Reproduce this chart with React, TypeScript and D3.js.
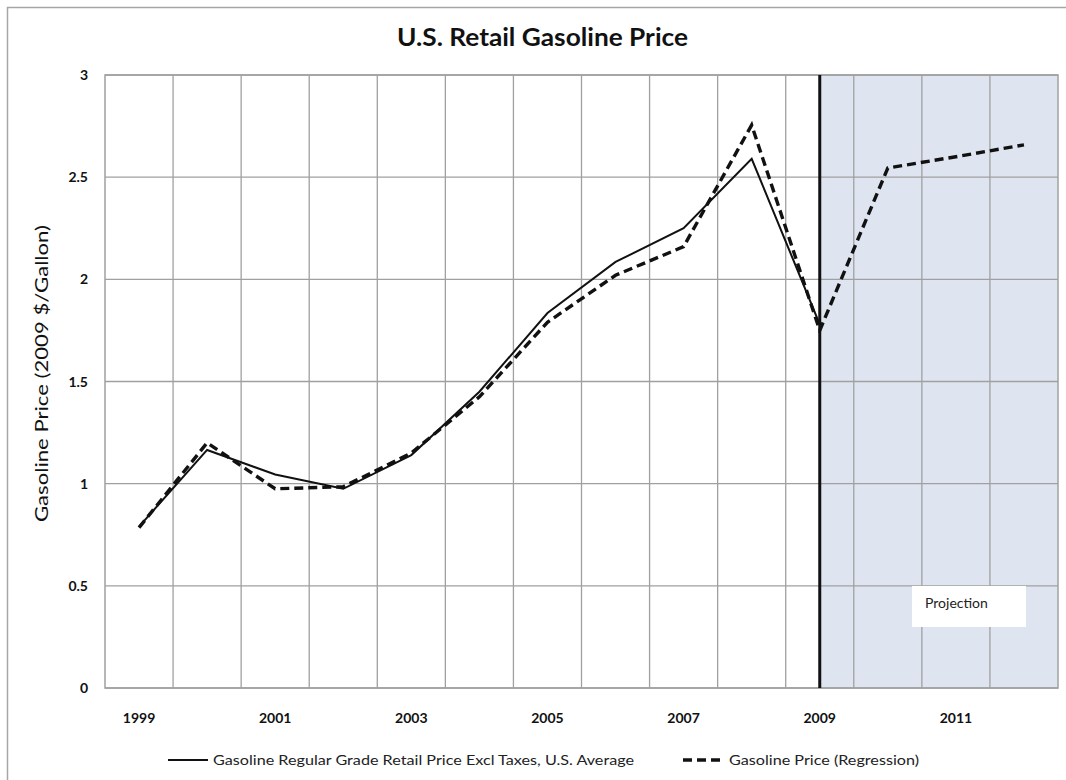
import React, {useEffect, useRef} from 'react'
import * as d3 from 'd3'

const years = ['1999', '2000', '2001', '2002', '2003', '2004', '2005', '2006', '2007', '2008', '2009', '2010', '2011', '2012']
const actual = [0.79, 1.165, 1.045, 0.975, 1.14, 1.45, 1.835, 2.085, 2.25, 2.59, 1.78]
const regression = [0.785, 1.2, 0.975, 0.985, 1.15, 1.425, 1.79, 2.02, 2.16, 2.755, 1.75, 2.545, 2.6, 2.658]
const yTicks = [0, 0.5, 1, 1.5, 2, 2.5, 3]
const xLabels = ['1999', '2001', '2003', '2005', '2007', '2009', '2011']
const projectionStart = '2009'
const legendItems = ['Gasoline Regular Grade Retail Price Excl Taxes, U.S. Average', 'Gasoline Price (Regression)']

const W = 1066
const H = 780
const font = 'Lato, "Open Sans", sans-serif'

const Chart = () => {
  const ref = useRef(null)

  useEffect(() => {
    const svg = d3.select(ref.current)
    svg.selectAll('*').remove()

    const left = 105
    const right = 1058
    const top = 75
    const bottom = 688

    const x = d3.scaleBand().domain(years).range([left, right]).padding(0)
    const y = d3.scaleLinear().domain([0, 3]).range([bottom, top])
    const cx = (d) => x(d) + x.bandwidth() / 2

    // outer frame
    svg.append('rect')
      .attr('x', 7.5).attr('y', 7.5)
      .attr('width', W).attr('height', H)
      .attr('fill', 'white')
      .attr('stroke', '#a6a6a6')
      .attr('stroke-width', 1.5)

    svg.append('text')
      .attr('x', 397).attr('y', 46)
      .attr('font-family', font)
      .attr('font-weight', 'bold')
      .attr('font-size', 25)
      .attr('fill', '#111')
      .attr('textLength', 291)
      .attr('lengthAdjust', 'spacingAndGlyphs')
      .text('U.S. Retail Gasoline Price')

    // projection shading
    svg.append('rect')
      .attr('x', cx(projectionStart)).attr('y', top)
      .attr('width', right - cx(projectionStart)).attr('height', bottom - top)
      .attr('fill', '#dfe5f0')

    // grid
    const g = svg.append('g')
    g.selectAll('line.h')
      .data(yTicks)
      .join('line')
      .attr('class', 'h')
      .attr('x1', left).attr('x2', right)
      .attr('y1', (d) => y(d)).attr('y2', (d) => y(d))
      .attr('stroke', '#a0a0a0')
      .attr('stroke-width', 1.3)
    g.selectAll('line.v')
      .data(years.slice(1))
      .join('line')
      .attr('class', 'v')
      .attr('x1', (d) => x(d)).attr('x2', (d) => x(d))
      .attr('y1', top).attr('y2', bottom)
      .attr('stroke', '#a0a0a0')
      .attr('stroke-width', 1.3)
    g.append('rect')
      .attr('x', left).attr('y', top)
      .attr('width', right - left).attr('height', bottom - top)
      .attr('fill', 'none')
      .attr('stroke', '#a0a0a0')
      .attr('stroke-width', 1.5)

    // projection box
    svg.append('rect')
      .attr('x', 912).attr('y', 586)
      .attr('width', 114).attr('height', 41)
      .attr('fill', 'white')
    svg.append('text')
      .attr('x', 925).attr('y', 608)
      .attr('font-family', font)
      .attr('font-size', 14)
      .attr('fill', '#222')
      .text('Projection')

    // 2009 divider
    svg.append('line')
      .attr('x1', cx(projectionStart)).attr('x2', cx(projectionStart))
      .attr('y1', top).attr('y2', bottom)
      .attr('stroke', '#111')
      .attr('stroke-width', 3)

    const line = d3.line()
      .x((d, i) => cx(years[i]))
      .y((d) => y(d))

    svg.append('path')
      .datum(actual)
      .attr('d', line)
      .attr('fill', 'none')
      .attr('stroke', '#111')
      .attr('stroke-width', 2)

    svg.append('path')
      .datum(regression)
      .attr('d', line)
      .attr('fill', 'none')
      .attr('stroke', '#111')
      .attr('stroke-width', 3.4)
      .attr('stroke-dasharray', '9,5')

    // y tick labels
    svg.selectAll('text.yt')
      .data(yTicks)
      .join('text')
      .attr('class', 'yt')
      .attr('x', 88)
      .attr('y', (d) => y(d) + 5)
      .attr('text-anchor', 'end')
      .attr('font-family', font)
      .attr('font-weight', 'bold')
      .attr('font-size', 14)
      .attr('fill', '#111')
      .text((d) => d3.format('')(d))

    // x tick labels
    svg.selectAll('text.xt')
      .data(xLabels)
      .join('text')
      .attr('class', 'xt')
      .attr('x', (d) => cx(d))
      .attr('y', 723)
      .attr('text-anchor', 'middle')
      .attr('font-family', font)
      .attr('font-weight', 'bold')
      .attr('font-size', 14)
      .attr('fill', '#111')
      .text((d) => d)

    svg.append('text')
      .attr('transform', `translate(48 522) rotate(-90)`)
      .attr('font-family', font)
      .attr('font-size', 18)
      .attr('fill', '#111')
      .attr('textLength', 297)
      .attr('lengthAdjust', 'spacingAndGlyphs')
      .text('Gasoline Price (2009 $/Gallon)')

    // legend
    const leg = [
      {x0: 168, tx: 213, w: 421, dash: null, sw: 2},
      {x0: 683, tx: 729, w: 190, dash: '9,5', sw: 3.4},
    ]
    leg.forEach((l, i) => {
      svg.append('line')
        .attr('x1', l.x0).attr('x2', l.x0 + 40)
        .attr('y1', 760).attr('y2', 760)
        .attr('stroke', '#111')
        .attr('stroke-width', l.sw)
        .attr('stroke-dasharray', l.dash)
      svg.append('text')
        .attr('x', l.tx).attr('y', 765)
        .attr('font-family', font)
        .attr('font-size', 14)
        .attr('fill', '#222')
        .attr('textLength', l.w)
        .attr('lengthAdjust', 'spacingAndGlyphs')
        .text(legendItems[i])
    })
  }, [])

  return <svg ref={ref} width={W} height={H} style={{display: 'block'}} />
}

const App = () => (
  <div style={{position: 'fixed', left: 0, top: 0}}>
    <Chart />
  </div>
)

export default App
